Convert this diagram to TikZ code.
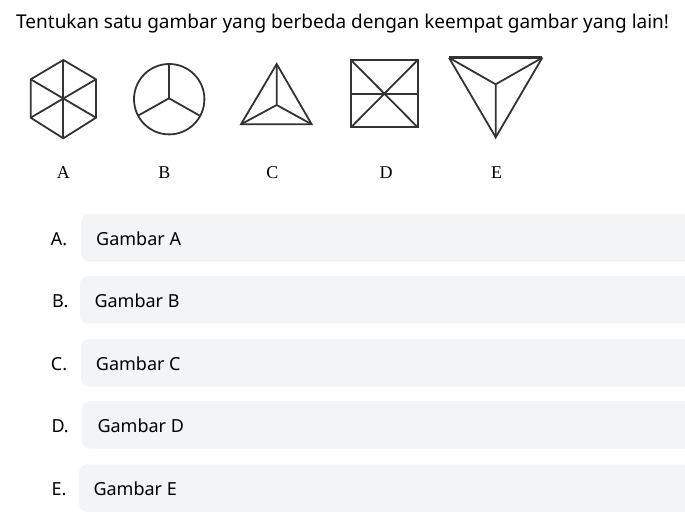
\documentclass[tikz,border=0pt]{standalone}
\usepackage{fontspec}
\usetikzlibrary{positioning, calc}
\newfontfamily\uifont{Noto Sans}
\newfontfamily\figfont{Liberation Serif}
\definecolor{optfill}{HTML}{F3F4F6}
\definecolor{inkgray}{HTML}{333333}

\begin{document}
\begin{tikzpicture}[x=1pt, y=-1pt,
    figline/.style={draw=inkgray, line width=1.8pt, line join=miter},
    figlabel/.style={anchor=base, inner sep=0pt, font=\figfont\fontsize{18}{18}\selectfont},
    uitext/.style={anchor=base west, inner sep=0pt, font=\uifont\fontsize{18}{20}\selectfont},
    optbox/.style={fill=optfill, rounded corners=8pt}]
    \useasboundingbox (0,0) rectangle (685,517);
    \clip (0,0) rectangle (685,517);

    % Question
    \node (question) [uitext, font=\uifont\fontsize{19}{22}\selectfont] at (16,28.3) {Tentukan satu gambar yang berbeda dengan keempat gambar yang lain!};

    % Figure A: hexagon
    \coordinate (a1) at (63.3,60);
    \coordinate (a2) at (96,79.3);
    \coordinate (a3) at (96,117.7);
    \coordinate (a4) at (63.3,138.3);
    \coordinate (a5) at (30.7,117.7);
    \coordinate (a6) at (30.7,79.3);
    \draw[figline] (a1) -- (a2) -- (a3) -- (a4) -- (a5) -- (a6) -- cycle;
    \draw[figline] (a1) -- (a4);
    \draw[figline] (a2) -- (a5);
    \draw[figline] (a3) -- (a6);

    % Figure B: circle
    \coordinate (bc) at (169,98.3);
    \draw[figline] (169.2,99.2) circle[radius=35.2];
    \draw[figline] (bc) -- (169,64);
    \draw[figline] (bc) -- (138.3,115.5);
    \draw[figline] (bc) -- (199.5,115.5);

    % Figure C: triangle
    \coordinate (c1) at (276.7,64);
    \coordinate (c2) at (241,124.3);
    \coordinate (c3) at (311.7,124.3);
    \coordinate (cc) at (276.7,105);
    \draw[figline] (c1) -- (c2) -- (c3) -- cycle;
    \draw[figline] (cc) -- (c1) (cc) -- (c2) (cc) -- (c3);

    % Figure D: square
    \coordinate (d1) at (351,60);
    \coordinate (d2) at (417.7,60);
    \coordinate (d3) at (417.7,127.3);
    \coordinate (d4) at (351,127.3);
    \draw[figline] (d1) -- (d2) -- (d3) -- (d4) -- cycle;
    \draw[figline] (d1) -- (d3) (d2) -- (d4);
    \draw[figline] ($(d1)!0.5!(d4)$) -- ($(d2)!0.5!(d3)$);

    % Figure E: inverted triangle
    \coordinate (e1) at (449,57.7);
    \coordinate (e2) at (542.3,57.7);
    \coordinate (e3) at (495.7,137.3);
    \coordinate (ec) at (495.7,84.3);
    \draw[figline] (e2) -- (e3) -- (e1);
    \draw[figline, line width=2.6pt] (e1) -- (e2);
    \draw[figline] (ec) -- (e1) (ec) -- (e2) (ec) -- (e3);

    % Figure labels
    \foreach \name/\x in {A/63.3, B/164.3, C/272.3, D/386, E/496.7}
        \node (lab\name) [figlabel] at (\x,178.3) {\name};

    % Options
    \foreach \name/\top/\left/\textx/\labx in {A/214/81/96/50.7, B/276/80/94.3/52, C/339/81/95.7/50.7, D/401/82/97.3/51.3, E/464.3/79/93.3/51.3} {
        \fill[optbox] (\left,\top) rectangle (700,\top+47.5);
        \node (opt\name) [uitext] at (\labx,\top+31.5) {\name.};
        \node (ans\name) [uitext] at (\textx,\top+31.5) {Gambar \name};
    }
\end{tikzpicture}
\end{document}
